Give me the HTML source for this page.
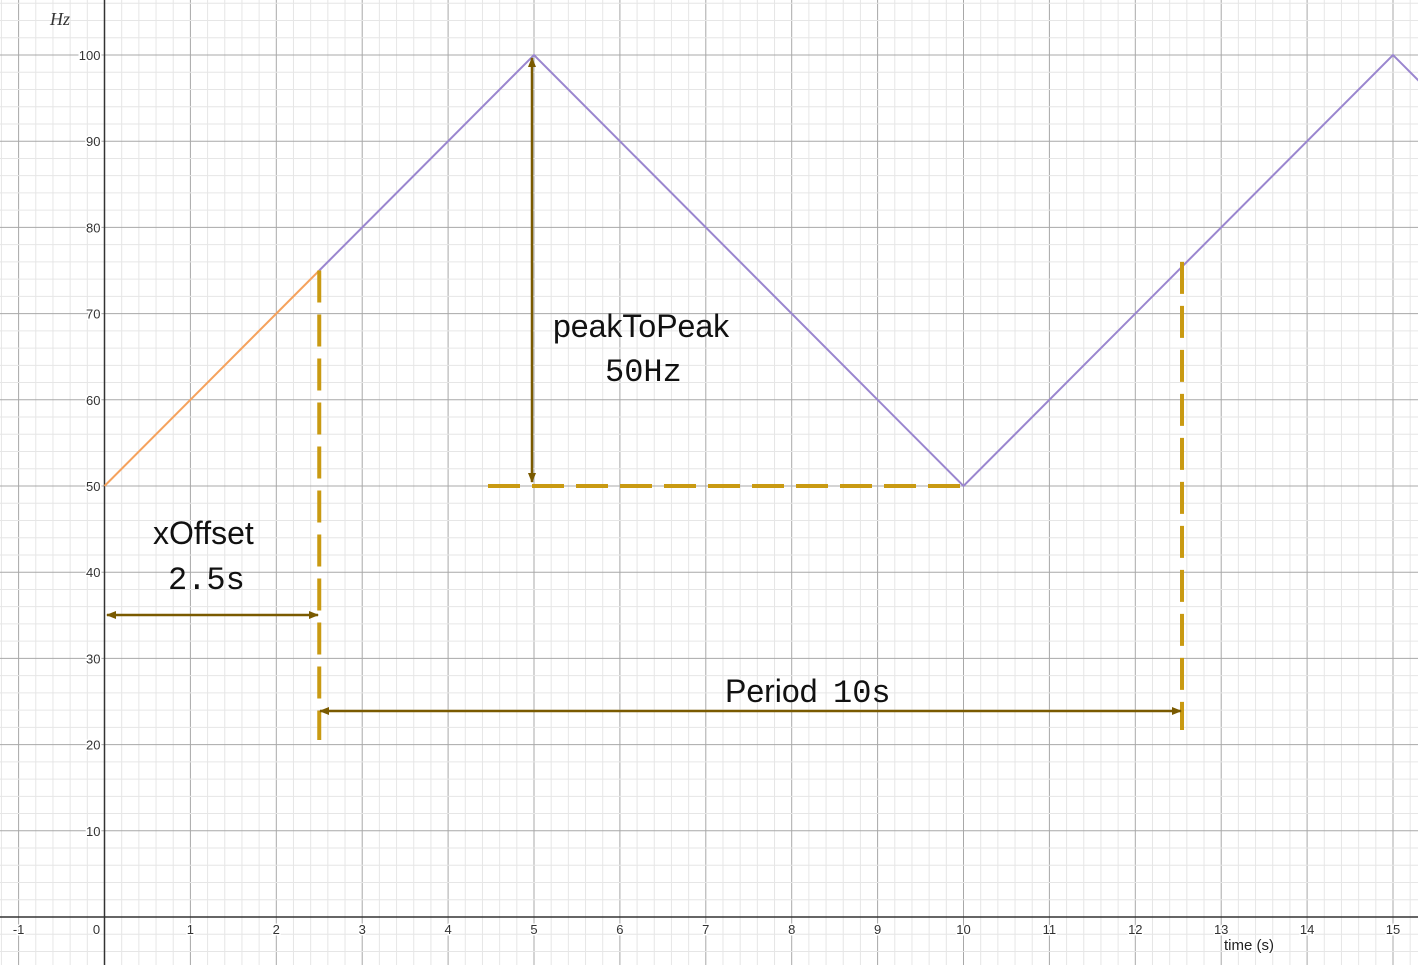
<!DOCTYPE html>
<html><head><meta charset="utf-8"><style>
html,body{margin:0;padding:0;background:#fff;overflow:hidden}
svg{display:block;font-family:"Liberation Sans",sans-serif}
</style></head><body>
<svg id="c" width="1418" height="965"></svg>
<script>
const orangeX=[0,2.5];
const orangeY=[50,75];
const purpleX=[2.5,5,10,15,15.4];
const purpleY=[75,100,50,100,96];
const xTicks=[-1,0,1,2,3,4,5,6,7,8,9,10,11,12,13,14,15];
const yTicks=[10,20,30,40,50,60,70,80,90,100];
const W=1418,H=965;
const X=v=>104.5+v*85.9;
const Y=v=>917-v*8.62;
const ns="http://www.w3.org/2000/svg";
const svg=document.getElementById('c');
function el(t,a,p){const e=document.createElementNS(ns,t);for(const k in a)e.setAttribute(k,a[k]);(p||svg).appendChild(e);return e;}
// grid
const grid=el('g',{});


for(let i=-10;i<=80;i++){const v=i*0.2;const px=X(v);if(px<0||px>W)continue;
 const major=i%5===0;el('line',{x1:px,x2:px,y1:0,y2:H,stroke:major?'#a8a8a8':'#e6e6e6','stroke-width':1},grid);}
for(let i=-30;i<=60;i++){const v=i*2;const py=Y(v);if(py<0||py>H)continue;
 const major=i%5===0;el('line',{x1:0,x2:W,y1:py,y2:py,stroke:major?'#a8a8a8':'#e6e6e6','stroke-width':1},grid);}
// axes
const xa=el('line',{x1:0,x2:W,y1:Y(0),y2:Y(0),stroke:'#333','stroke-width':1.5});


const ya=el('line',{x1:X(0),x2:X(0),y1:0,y2:H,stroke:'#333','stroke-width':1.5});


// tick labels
xTicks.forEach(v=>{const t=el('text',{x:v===0?X(0)-8:X(v),y:Y(0)+17,'font-size':13,fill:'#333','text-anchor':'middle',stroke:'#fff','stroke-width':3,'paint-order':'stroke'});t.textContent=v;
 
 });
yTicks.forEach(v=>{const t=el('text',{x:X(0)-4,y:Y(v)+5,'font-size':13,fill:'#333','text-anchor':'end',stroke:'#fff','stroke-width':3,'paint-order':'stroke'});t.textContent=v;
 
 });
let t=el('text',{x:50,y:25,'font-size':18,'font-style':'italic','font-family':'Liberation Serif,serif',fill:'#333'});t.textContent='Hz';


t=el('text',{x:1224,y:950,'font-size':15,fill:'#222',stroke:'#fff','stroke-width':3,'paint-order':'stroke'});t.textContent='time (s)';


// series
function poly(xs,ys,c,name){const p=el('polyline',{points:xs.map((x,i)=>X(x)+','+Y(ys[i])).join(' '),fill:'none',stroke:c,'stroke-width':2});
 
 }
poly(orangeX,orangeY,'#f5a25d','offset-segment');
poly(purpleX,purpleY,'#9a86cf','triangle-wave');
// dashed annotation lines
function dash(x1,y1,x2,y2,name){const l=el('line',{x1,y1,x2,y2,stroke:'#c99a12','stroke-width':4,'stroke-dasharray':'32,12'});
 
 }
dash(X(2.5),Y(75),X(2.5),740,'offset-dashed-line');
dash(1182,Y(76),1182,730,'period-end-dashed-line');
dash(488,Y(50),X(10),Y(50),'trough-dashed-line');
// arrows
const defs=el('defs',{});
const m=el('marker',{id:'ah',markerWidth:10,markerHeight:10,refX:9,refY:5,orient:'auto-start-reverse',markerUnits:'userSpaceOnUse'},defs);
el('path',{d:'M0,1 L10,5 L0,9 Z',fill:'#7a5a00'},m);
function arrow(x1,y1,x2,y2,name){const l=el('line',{x1,y1,x2,y2,stroke:'#7a5a00','stroke-width':2.5,'marker-start':'url(#ah)','marker-end':'url(#ah)'});
 
 }
arrow(532,Y(100)+3,532,Y(50)-4,'peak-to-peak-arrow');
arrow(107,615,318,615,'x-offset-arrow');
arrow(320,711,1181,711,'period-arrow');
// labels
function lab(x,y,s,mono,name){const t=el('text',{x,y,'font-size':mono?32:32,fill:'#111','font-family':mono?'Liberation Mono,monospace':'Liberation Sans,sans-serif'});t.textContent=s;
 
 return t;}
lab(553,337,'peakToPeak',false,'peak-to-peak-label');
lab(605,381,'50Hz',true,'peak-to-peak-value');
lab(153,544,'xOffset',false,'x-offset-label');
lab(168,589,'2.5s',true,'x-offset-value');
lab(725,702,'Period',false,'period-label');
lab(833,702,'10s',true,'period-value');
</script>
</body></html>
